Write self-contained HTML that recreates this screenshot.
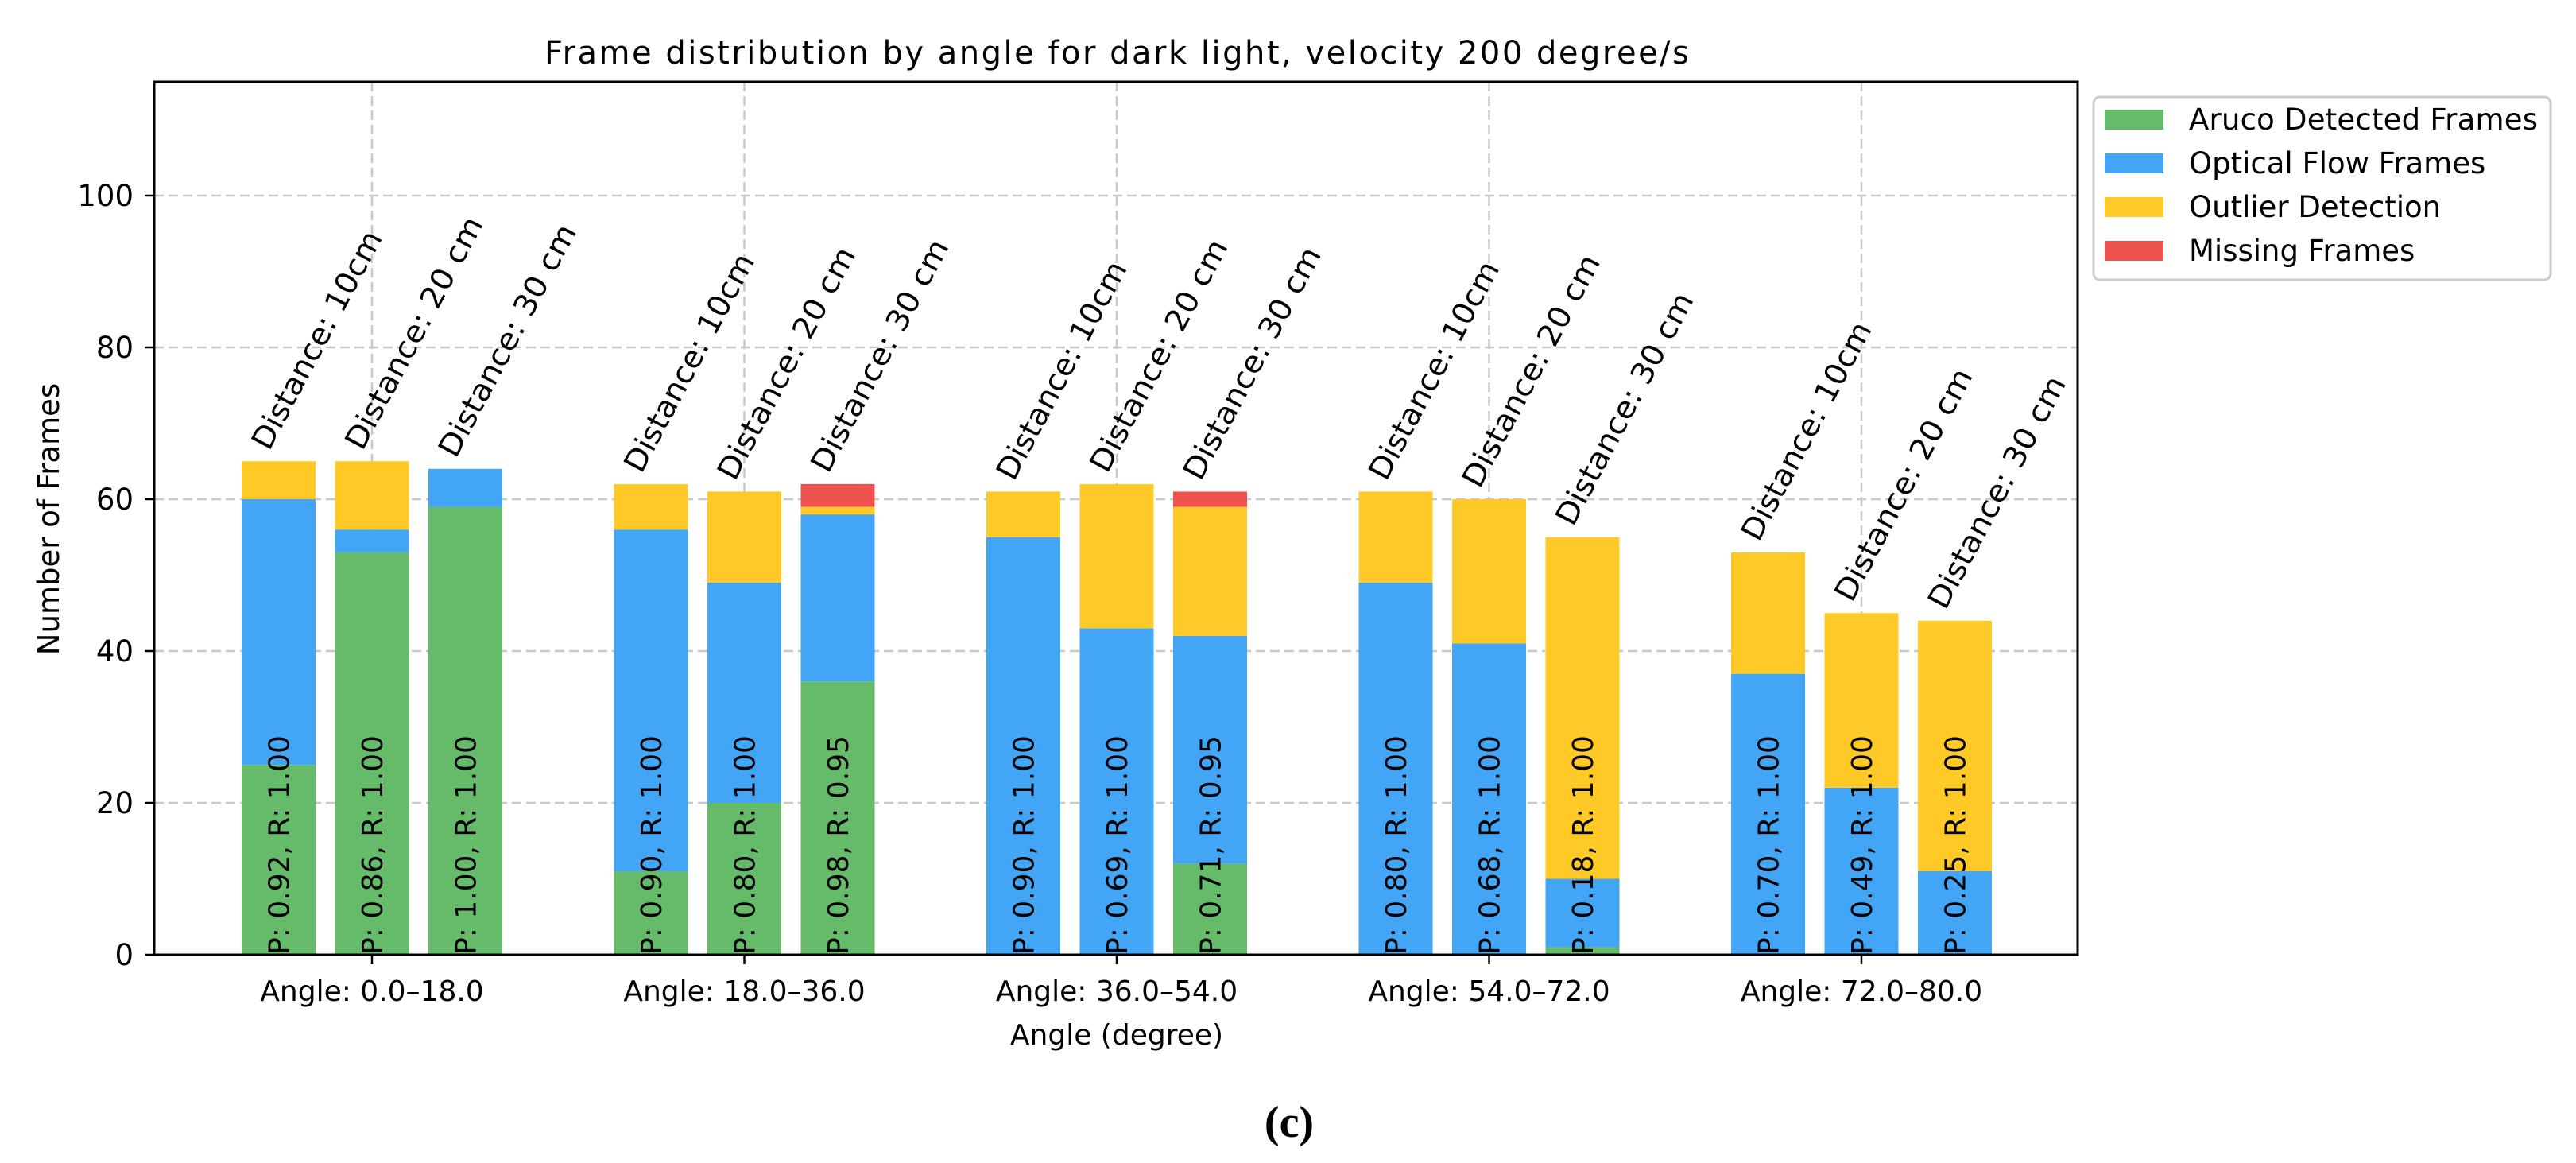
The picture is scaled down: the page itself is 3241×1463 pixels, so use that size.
<!DOCTYPE html>
<html><head><meta charset="utf-8"><style>
html,body{margin:0;padding:0;background:#fff;width:3241px;height:1463px;overflow:hidden}
svg{display:block;font-family:"DejaVu Sans","Liberation Sans",sans-serif}
</style></head><body>
<svg id="chart" width="3241" height="1463" viewBox="0 0 3241 1463">
<text x="1405" y="80" font-size="40" text-anchor="middle" textLength="1440">Frame distribution by angle for dark light, velocity 200 degree/s</text>
<g id="grid"></g>
<g id="bars"></g>
<g id="labels"></g>
<rect x="194" y="103" width="2420" height="1098" fill="none" stroke="#000" stroke-width="3"/>
<g id="axes"></g>
<text x="0" y="0" font-size="37" text-anchor="middle" transform="translate(74,653) rotate(-90)">Number of Frames</text>
<text x="1405" y="1314" font-size="36" text-anchor="middle">Angle (degree)</text>
<text x="1622" y="1430" font-size="56" font-weight="bold" text-anchor="middle" font-family="Liberation Serif, serif">(c)</text>
<g>
<rect x="2634" y="122" width="575" height="230" rx="8" fill="#fff" stroke="#ccc" stroke-width="3"/>
<rect x="2648" y="138" width="74" height="25" fill="#66bb6a"/>
<text x="2754" y="163" font-size="37" textLength="439">Aruco Detected Frames</text>
<rect x="2648" y="193" width="74" height="25" fill="#42a5f5"/>
<text x="2754" y="218" font-size="37">Optical Flow Frames</text>
<rect x="2648" y="248" width="74" height="25" fill="#ffca28"/>
<text x="2754" y="273" font-size="37">Outlier Detection</text>
<rect x="2648" y="303" width="74" height="25" fill="#ef5350"/>
<text x="2754" y="328" font-size="37">Missing Frames</text>
</g>
</svg>
<script>
const categories = ["Angle: 0.0–18.0","Angle: 18.0–36.0","Angle: 36.0–54.0","Angle: 54.0–72.0","Angle: 72.0–80.0"];
const distances = ["Distance: 10cm","Distance: 20 cm","Distance: 30 cm"];
const aruco   = [[25,53,59],[11,20,36],[0,0,12],[0,0,1],[0,0,0]];
const optical = [[35,3,5],[45,29,22],[55,43,30],[49,41,9],[37,22,11]];
const outlier = [[5,9,0],[6,12,1],[6,19,17],[12,19,45],[16,23,33]];
const missing = [[0,0,0],[0,0,3],[0,0,2],[0,0,0],[0,0,0]];
const prLabels = [["P: 0.92, R: 1.00","P: 0.86, R: 1.00","P: 1.00, R: 1.00"],["P: 0.90, R: 1.00","P: 0.80, R: 1.00","P: 0.98, R: 0.95"],["P: 0.90, R: 1.00","P: 0.69, R: 1.00","P: 0.71, R: 0.95"],["P: 0.80, R: 1.00","P: 0.68, R: 1.00","P: 0.18, R: 1.00"],["P: 0.70, R: 1.00","P: 0.49, R: 1.00","P: 0.25, R: 1.00"]];
const yTicks = [0,20,40,60,80,100];

const NS="http://www.w3.org/2000/svg";
const X0=194,X1=2614,Y0=1201,PY=9.55;
function yScale(v){return Y0-v*PY;}
function xGroup(i){return 468+i*468.5;}
function xBar(i,j){return xGroup(i)+(j-1)*117.5;}
function mk(tag,attrs,parent){const e=document.createElementNS(NS,tag);for(const k in attrs)e.setAttribute(k,attrs[k]);parent.appendChild(e);return e;}
const grid=document.getElementById('grid'),bars=document.getElementById('bars'),labels=document.getElementById('labels'),axes=document.getElementById('axes');
yTicks.forEach(t=>{
  const y=yScale(t);
  const l=mk('line',{x1:X0,x2:X1,y1:y,y2:y,stroke:'#c8c8c8','stroke-width':2.5,'stroke-dasharray':'12,6'},grid);
  
  
  const tk=mk('line',{x1:X0-12,x2:X0,y1:y,y2:y,stroke:'#000','stroke-width':2.5},axes);
  
  
  const tx=mk('text',{x:X0-26,y:y+13,'font-size':37,'text-anchor':'end'},axes);
  tx.textContent=t;
  
  
});
categories.forEach((c,i)=>{
  const x=xGroup(i);
  const l=mk('line',{x1:x,x2:x,y1:103,y2:Y0,stroke:'#c8c8c8','stroke-width':2.5,'stroke-dasharray':'12,6'},grid);
  
  
  const tk=mk('line',{x1:x,x2:x,y1:Y0,y2:Y0+12,stroke:'#000','stroke-width':2.5},axes);
  
  
  const tx=mk('text',{x:x,y:Y0+58,'font-size':36,'text-anchor':'middle'},axes);
  tx.textContent=c;
  
  
  for(let j=0;j<3;j++){
    const cx=xBar(i,j);
    const segs=[[aruco[i][j],'#66bb6a','aruco'],[optical[i][j],'#42a5f5','optical'],[outlier[i][j],'#ffca28','outlier'],[missing[i][j],'#ef5350','missing']];
    let base=0;
    segs.forEach(s=>{
      if(s[0]>0){
        const r=mk('rect',{x:cx-46.5,width:93,y:yScale(base+s[0]),height:s[0]*PY,fill:s[1]},bars);
        
        
      }
      base+=s[0];
    });
    const dl=mk('text',{x:0,y:0,'font-size':38,textLength:(j===0?305:325),lengthAdjust:'spacingAndGlyphs',transform:`translate(${cx-12},${yScale(base)-12}) rotate(-62)`},labels);
    dl.textContent=distances[j];
    
    
    const pl=mk('text',{x:0,y:0,'font-size':36,transform:`translate(${cx+13},${Y0}) rotate(-90)`},labels);
    pl.textContent=prLabels[i][j];
    
    
  }
});
</script>
</body></html>
